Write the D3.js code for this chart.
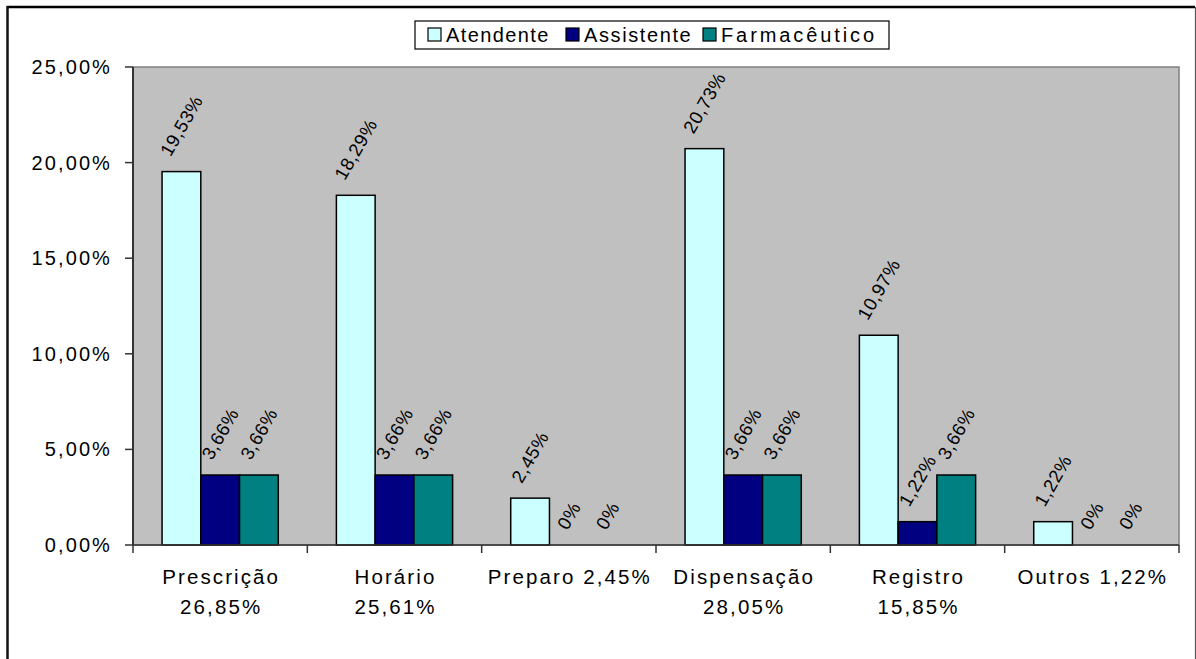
<!DOCTYPE html>
<html>
<head>
<meta charset="utf-8">
<script src="https://cdn.jsdelivr.net/npm/d3@7"></script>
<style>
  html, body { margin: 0; padding: 0; background: #fff; }
  text { font-family: "Liberation Sans", Arial, sans-serif; fill: #000; }
</style>
</head>
<body>
<div id="chart"></div>
<script>
// categories (x axis, one or two lines each)
const catLines = [
    ["Prescrição", "26,85%"],
    ["Horário", "25,61%"],
    ["Preparo 2,45%"],
    ["Dispensação", "28,05%"],
    ["Registro", "15,85%"],
    ["Outros 1,22%"]
];
const seriesNames = ["Atendente", "Assistente", "Farmacêutico"];
const seriesColors = ["#CCFFFF", "#000080", "#008080"];
const atendente = [19.53, 18.29, 2.45, 20.73, 10.97, 1.22];
const assistente = [3.66, 3.66, 0, 3.66, 1.22, 0];
const farmaceutico = [3.66, 3.66, 0, 3.66, 3.66, 0];
const yTicks = [0, 5, 10, 15, 20, 25];

const W = 1196, H = 659;
const plot = { left: 133, top: 67, right: 1179, bottom: 545 };

const svg = d3.select('#chart').append('svg')
    .attr('width', W)
    .attr('height', H);

// outer frame (bottom edge falls off the picture)
svg.append('line').attr('x1', 7).attr('y1', 7).attr('x2', 1195).attr('y2', 7)
    .attr('stroke', '#000').attr('stroke-width', 2.5);
svg.append('line').attr('x1', 7.5).attr('y1', 6).attr('x2', 7.5).attr('y2', H + 5)
    .attr('stroke', '#111').attr('stroke-width', 2.5);
svg.append('line').attr('x1', 1195.5).attr('y1', 7).attr('x2', 1195.5).attr('y2', H + 5)
    .attr('stroke', '#555').attr('stroke-width', 1.2);

const x = d3.scaleBand()
    .domain(d3.range(catLines.length))
    .range([plot.left, plot.right]);
const bw = x.bandwidth();
// gap width 150%: 3 bars + 1.5 bar of gap per category
const xs = d3.scaleBand()
    .domain(seriesNames)
    .range([bw / 6, bw * 5 / 6]);
const y = d3.scaleLinear()
    .domain([0, 25])
    .range([plot.bottom, plot.top]);

// plot area
svg.append('rect')
    .attr('x', plot.left).attr('y', plot.top)
    .attr('width', plot.right - plot.left)
    .attr('height', plot.bottom - plot.top)
    .attr('fill', '#C0C0C0')
    .attr('stroke', '#808080')
    .attr('stroke-width', 1.5);

// bars
const seriesData = [atendente, assistente, farmaceutico];
const bars = [];
seriesData.forEach((vals, si) => {
    vals.forEach((v, ci) => {
        bars.push({ s: seriesNames[si], color: seriesColors[si], ci, v });
    });
});

svg.append('g').selectAll('rect')
    .data(bars.filter(d => d.v > 0))
    .enter().append('rect')
    .attr('x', d => x(d.ci) + xs(d.s))
    .attr('y', d => y(d.v))
    .attr('width', xs.bandwidth())
    .attr('height', d => y(0) - y(d.v))
    .attr('fill', d => d.color)
    .attr('stroke', '#000')
    .attr('stroke-width', 1.5);

// y axis
const yAxis = svg.append('g');
yAxis.append('line')
    .attr('x1', plot.left).attr('x2', plot.left)
    .attr('y1', plot.top).attr('y2', plot.bottom)
    .attr('stroke', '#333').attr('stroke-width', 2);
yTicks.forEach(t => {
    yAxis.append('line')
        .attr('x1', plot.left - 8).attr('x2', plot.left)
        .attr('y1', y(t)).attr('y2', y(t))
        .attr('stroke', '#333').attr('stroke-width', 1.5);
    yAxis.append('text')
        .attr('x', 112).attr('y', y(t))
        .attr('dy', '0.35em')
        .attr('text-anchor', 'end')
        .style('font-size', '20px')
        .style('letter-spacing', '2.1px')
        .text(d3.format('.2f')(t).replace('.', ',') + '%');
});

// x axis
const xAxis = svg.append('g');
xAxis.append('line')
    .attr('x1', plot.left).attr('x2', plot.right)
    .attr('y1', plot.bottom).attr('y2', plot.bottom)
    .attr('stroke', '#333').attr('stroke-width', 1.5);
d3.range(catLines.length + 1).forEach(i => {
    const xx = plot.left + i * bw;
    xAxis.append('line')
        .attr('x1', xx).attr('x2', xx)
        .attr('y1', plot.bottom).attr('y2', plot.bottom + 8)
        .attr('stroke', '#333').attr('stroke-width', 1.5);
});
catLines.forEach((lines, i) => {
    const t = xAxis.append('text')
        .attr('text-anchor', 'middle')
        .style('font-size', '20.5px')
        .style('letter-spacing', '2.1px');
    lines.forEach((ln, k) => {
        t.append('tspan')
            .attr('x', x(i) + bw / 2 + 1)
            .attr('y', 584 + k * 30)
            .text(ln);
    });
});

// rotated value labels
const fmtVal = v => v === 0 ? '0%' : v.toFixed(2).replace('.', ',') + '%';
const ang = 60 * Math.PI / 180;
const labG = svg.append('g');
bars.forEach(d => {
    const cx = x(d.ci) + xs(d.s) + xs.bandwidth() / 2;
    const t = labG.append('text')
        .attr('text-anchor', 'middle')
        .attr('dy', '0.35em')
        .style('font-size', '18.5px')
        .style('letter-spacing', '0.6px')
        .text(fmtVal(d.v));
    const L = t.node().getComputedTextLength();
    const hh = L * Math.sin(ang) + 13 * Math.cos(ang);
    const cy = y(d.v) - 14 - hh / 2;
    t.attr('transform', `translate(${cx},${cy}) rotate(-60)`);
});

// legend
const leg = svg.append('g');
leg.append('rect')
    .attr('x', 415).attr('y', 21)
    .attr('width', 474).attr('height', 28)
    .attr('fill', '#fff')
    .attr('stroke', '#000').attr('stroke-width', 1.2);
const legX = [428, 566, 703];
const legSpacing = ['1.4px', '1.6px', '2.9px'];
seriesNames.forEach((s, i) => {
    leg.append('rect')
        .attr('x', legX[i]).attr('y', 28)
        .attr('width', 13).attr('height', 13)
        .attr('fill', seriesColors[i])
        .attr('stroke', '#000').attr('stroke-width', 1.2);
    leg.append('text')
        .attr('x', legX[i] + 18).attr('y', 35)
        .attr('dy', '0.35em')
        .style('font-size', '20px')
        .style('letter-spacing', legSpacing[i])
        .text(s);
});
</script>
</body>
</html>
